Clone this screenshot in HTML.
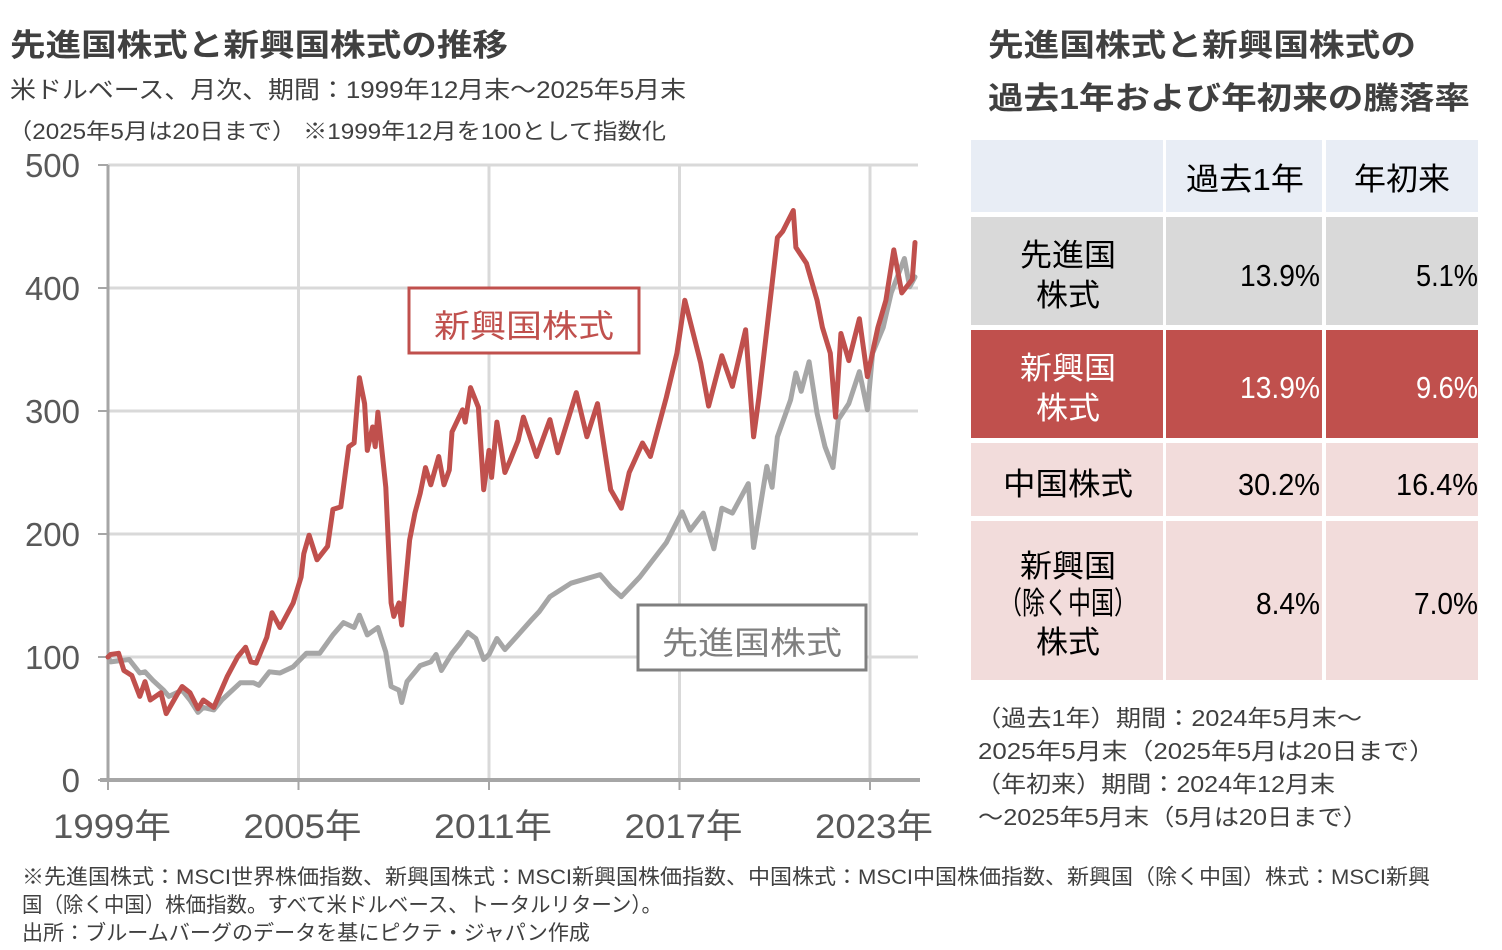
<!DOCTYPE html>
<html><head><meta charset="utf-8">
<style>
html,body{margin:0;padding:0;background:#fff;}
svg{display:block;font-family:"Liberation Sans","Noto Sans CJK JP",sans-serif;}
</style></head>
<body>
<svg id="root" width="1502" height="950" viewBox="0 0 1502 950">
  <!-- Titles -->
  <text x="10" y="56" font-size="31" font-weight="bold" fill="#404040" textLength="498" lengthAdjust="spacingAndGlyphs">先進国株式と新興国株式の推移</text>
  <text x="10" y="98" font-size="24" fill="#404040" textLength="676" lengthAdjust="spacingAndGlyphs">米ドルベース、月次、期間：1999年12月末～2025年5月末</text>
  <text x="8" y="139" font-size="22" fill="#404040" textLength="658" lengthAdjust="spacingAndGlyphs">（2025年5月は20日まで）  ※1999年12月を100として指数化</text>

  <g id="plot"></g>

  <!-- Legend boxes -->
  <g>
    <rect x="409" y="288" width="230" height="65" fill="#fff" stroke="#c0504d" stroke-width="3"/>
    <text x="524" y="337" font-size="32" fill="#c0504d" text-anchor="middle" textLength="180" lengthAdjust="spacingAndGlyphs">新興国株式</text>
  </g>
  <g>
    <rect x="638" y="605" width="228" height="65" fill="#fff" stroke="#7f7f7f" stroke-width="3"/>
    <text x="752" y="654" font-size="32" fill="#7f7f7f" text-anchor="middle" textLength="180" lengthAdjust="spacingAndGlyphs">先進国株式</text>
  </g>

  <!-- Right side -->
  <text x="988" y="56" font-size="31" font-weight="bold" fill="#404040" textLength="428" lengthAdjust="spacingAndGlyphs">先進国株式と新興国株式の</text>
  <text x="988" y="109" font-size="31" font-weight="bold" fill="#404040" textLength="482" lengthAdjust="spacingAndGlyphs">過去1年および年初来の騰落率</text>

  <g>
    <rect x="971" y="140" width="192" height="72" fill="#e8edf5"/>
    <rect x="1166" y="140" width="156" height="72" fill="#e8edf5"/>
    <rect x="1326" y="140" width="152" height="72" fill="#e8edf5"/>
    <text x="1245" y="190" font-size="31" fill="#000" text-anchor="middle" textLength="118" lengthAdjust="spacingAndGlyphs">過去1年</text>
    <text x="1402" y="190" font-size="31" fill="#000" text-anchor="middle" textLength="96" lengthAdjust="spacingAndGlyphs">年初来</text>

    <rect x="971" y="217" width="192" height="108" fill="#d9d9d9"/>
    <rect x="1166" y="217" width="156" height="108" fill="#d9d9d9"/>
    <rect x="1326" y="217" width="152" height="108" fill="#d9d9d9"/>
    <text x="1068" y="266" font-size="31" fill="#000" text-anchor="middle" textLength="96" lengthAdjust="spacingAndGlyphs">先進国</text>
    <text x="1068" y="306" font-size="31" fill="#000" text-anchor="middle" textLength="64" lengthAdjust="spacingAndGlyphs">株式</text>
    <text x="1320" y="286" font-size="31" fill="#000" text-anchor="end" textLength="80" lengthAdjust="spacingAndGlyphs">13.9%</text>
    <text x="1478" y="286" font-size="31" fill="#000" text-anchor="end" textLength="62" lengthAdjust="spacingAndGlyphs">5.1%</text>

    <rect x="971" y="330" width="192" height="108" fill="#c0504d"/>
    <rect x="1166" y="330" width="156" height="108" fill="#c0504d"/>
    <rect x="1326" y="330" width="152" height="108" fill="#c0504d"/>
    <text x="1068" y="379" font-size="31" fill="#fff" text-anchor="middle" textLength="96" lengthAdjust="spacingAndGlyphs">新興国</text>
    <text x="1068" y="419" font-size="31" fill="#fff" text-anchor="middle" textLength="64" lengthAdjust="spacingAndGlyphs">株式</text>
    <text x="1320" y="398" font-size="31" fill="#fff" text-anchor="end" textLength="80" lengthAdjust="spacingAndGlyphs">13.9%</text>
    <text x="1478" y="398" font-size="31" fill="#fff" text-anchor="end" textLength="62" lengthAdjust="spacingAndGlyphs">9.6%</text>

    <rect x="971" y="443" width="192" height="73" fill="#f2dcdb"/>
    <rect x="1166" y="443" width="156" height="73" fill="#f2dcdb"/>
    <rect x="1326" y="443" width="152" height="73" fill="#f2dcdb"/>
    <text x="1068" y="495" font-size="31" fill="#000" text-anchor="middle" textLength="130" lengthAdjust="spacingAndGlyphs">中国株式</text>
    <text x="1320" y="495" font-size="31" fill="#000" text-anchor="end" textLength="82" lengthAdjust="spacingAndGlyphs">30.2%</text>
    <text x="1478" y="495" font-size="31" fill="#000" text-anchor="end" textLength="82" lengthAdjust="spacingAndGlyphs">16.4%</text>

    <rect x="971" y="521" width="192" height="159" fill="#f2dcdb"/>
    <rect x="1166" y="521" width="156" height="159" fill="#f2dcdb"/>
    <rect x="1326" y="521" width="152" height="159" fill="#f2dcdb"/>
    <text x="1068" y="577" font-size="31" fill="#000" text-anchor="middle" textLength="96" lengthAdjust="spacingAndGlyphs">新興国</text>
    <text x="1068" y="614" font-size="31" fill="#000" text-anchor="middle" textLength="138" lengthAdjust="spacingAndGlyphs">（除く中国）</text>
    <text x="1068" y="653" font-size="31" fill="#000" text-anchor="middle" textLength="64" lengthAdjust="spacingAndGlyphs">株式</text>
    <text x="1320" y="614" font-size="31" fill="#000" text-anchor="end" textLength="64" lengthAdjust="spacingAndGlyphs">8.4%</text>
    <text x="1478" y="614" font-size="31" fill="#000" text-anchor="end" textLength="64" lengthAdjust="spacingAndGlyphs">7.0%</text>
  </g>

  <g font-size="23" fill="#404040">
    <text x="976" y="726" textLength="386" lengthAdjust="spacingAndGlyphs">（過去1年）期間：2024年5月末～</text>
    <text x="978" y="759" textLength="457" lengthAdjust="spacingAndGlyphs">2025年5月末（2025年5月は20日まで）</text>
    <text x="976" y="792" textLength="359" lengthAdjust="spacingAndGlyphs">（年初来）期間：2024年12月末</text>
    <text x="978" y="825" textLength="390" lengthAdjust="spacingAndGlyphs">～2025年5月末（5月は20日まで）</text>
  </g>

  <g font-size="21" fill="#404040">
    <text x="22" y="884" textLength="1408" lengthAdjust="spacingAndGlyphs">※先進国株式：MSCI世界株価指数、新興国株式：MSCI新興国株価指数、中国株式：MSCI中国株価指数、新興国（除く中国）株式：MSCI新興</text>
    <text x="22" y="912" textLength="640" lengthAdjust="spacingAndGlyphs">国（除く中国）株価指数。すべて米ドルベース、トータルリターン）。</text>
    <text x="22" y="940" textLength="568" lengthAdjust="spacingAndGlyphs">出所：ブルームバーグのデータを基にピクテ・ジャパン作成</text>
  </g>
</svg>
<script>
// months since Dec 1999
const emMonths = [0,1,4,6,9,12,14,16,20,22,26,28,31,34,36,40,45,49,52,54,56,60,62,65,70,73,74,76,79,83,85,88,91,93,95,97,98,100,101,102,105,107,108,110,111,114,116,118,120,122,125,127,129,130,134,135,137,140,142,144,145,147,150,152,155,157,162,167,170,177,181,185,190,194,197,202,205,211,215,218,224,227,232,236,241,244,246,249,253,255,259,260,264,268,270,273,275,277,280,284,287,291,294,297,300,304,305];
const emValues = [100,102,103,89,85,68,80,65,71,54,69,76,71,58,65,59,84,100,108,96,95,116,136,124,144,165,184,199,179,190,220,222,271,274,327,306,268,287,271,299,238,144,133,144,126,195,217,233,254,240,263,240,252,283,301,291,319,303,236,268,246,291,250,260,276,295,263,293,266,315,279,306,236,221,250,274,263,311,347,390,339,304,345,320,366,279,311,366,441,446,463,433,420,390,368,347,295,363,341,375,328,368,390,431,396,407,437];
const dmMonths = [0,1,8,12,14,17,21,23,28,31,34,36,40,43,50,55,57,61,65,70,75,80,85,89,93,95,98,102,105,107,110,111,113,118,122,124,126,130,133,136,139,142,144,147,150,155,160,163,167,175,186,190,194,201,211,217,220,225,229,232,236,242,244,249,251,253,258,260,262,265,268,271,274,276,280,284,287,289,293,296,301,303,305];
const dmValues = [100,96,98,87,88,81,73,68,73,65,55,59,57,65,79,79,77,88,87,92,103,103,118,128,124,134,118,124,104,76,73,63,80,93,96,102,89,103,111,120,115,98,102,115,106,118,130,137,149,160,167,157,149,165,193,218,203,217,188,221,217,241,189,255,238,279,309,331,316,340,298,271,254,293,306,332,301,347,368,396,424,401,409];
const yTicks = [0,100,200,300,400,500];
const xTickLabels = ["1999年","2005年","2011年","2017年","2023年"];
const xTickMonths = [0,72,144,216,288];

const NS = "http://www.w3.org/2000/svg";
const plot = document.getElementById('plot');
const X0 = 108, PXM = 31.75/12, Y0 = 780, PXV = 1.23;
const xs = m => X0 + m * PXM;
const ys = v => Y0 - v * PXV;
function mk(tag, attrs, parent) {
  const e = document.createElementNS(NS, tag);
  for (const k in attrs) e.setAttribute(k, attrs[k]);
  (parent || plot).appendChild(e);
  return e;
}
// horizontal grid + y labels
yTicks.forEach(v => {
  if (v > 0) {
    const g = mk('line', {x1: X0, x2: 918, y1: ys(v), y2: ys(v), stroke: '#d9d9d9', 'stroke-width': 3});
    
    
  }
  mk('line', {x1: 98, x2: X0, y1: ys(v), y2: ys(v), stroke: '#a6a6a6', 'stroke-width': 2});
  const t = mk('text', {x: 80, y: ys(v) + 12, 'font-size': 33, fill: '#595959', 'text-anchor': 'end'});
  t.textContent = v;
  
  
});
// vertical grid + x labels
xTickMonths.forEach((m, i) => {
  if (m > 0) {
    const g = mk('line', {x1: xs(m), x2: xs(m), y1: ys(500), y2: Y0, stroke: '#d9d9d9', 'stroke-width': 3});
    
    
  }
  mk('line', {x1: xs(m), x2: xs(m), y1: Y0, y2: 790, stroke: '#a6a6a6', 'stroke-width': 2});
  const t = mk('text', {x: xs(m) + 4, y: 838, 'font-size': 34, fill: '#595959', 'text-anchor': 'middle', textLength: 118, lengthAdjust: 'spacingAndGlyphs'});
  t.textContent = xTickLabels[i];
  
  
});
const ya = mk('line', {x1: X0, x2: X0, y1: ys(500), y2: Y0, stroke: '#a6a6a6', 'stroke-width': 3});


const xa = mk('line', {x1: 100, x2: 920, y1: Y0, y2: Y0, stroke: '#a6a6a6', 'stroke-width': 4});



function series(months, vals, color, name) {
  const d = months.map((m, i) => (i ? 'L' : 'M') + xs(m).toFixed(1) + ' ' + ys(vals[i]).toFixed(1)).join(' ');
  const p = mk('path', {d: d, fill: 'none', stroke: color, 'stroke-width': 5, 'stroke-linejoin': 'round', 'stroke-linecap': 'round'});
  
  
}
series(dmMonths, dmValues, '#a6a6a6', 'developed-line');
series(emMonths, emValues, '#c0504d', 'emerging-line');
</script>
</body></html>
